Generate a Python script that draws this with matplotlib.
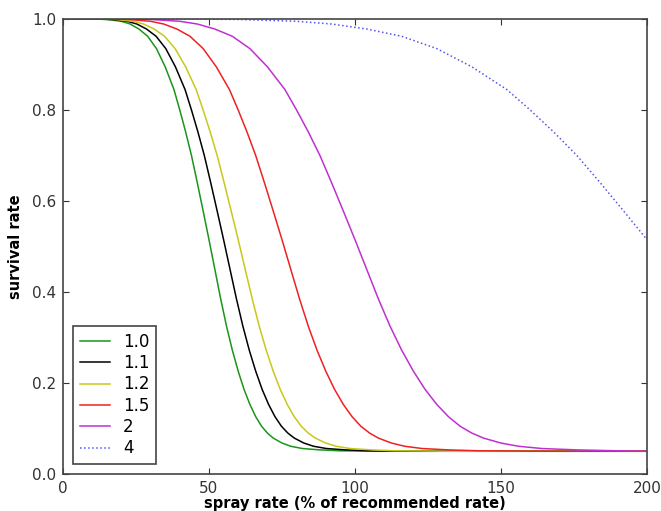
import matplotlib
matplotlib.use('Agg')
import matplotlib.pyplot as plt

matplotlib.rcParams['xtick.direction'] = 'in'
matplotlib.rcParams['ytick.direction'] = 'in'
matplotlib.rcParams['xtick.top'] = True
matplotlib.rcParams['ytick.right'] = True
matplotlib.rcParams['font.family'] = 'DejaVu Sans'

# survival levels (shared shape, shifted by resistance)
survival = [1.000, 1.000, 0.999, 0.995, 0.989, 0.978, 0.962, 0.935, 0.895,
            0.845, 0.800, 0.752, 0.700, 0.640, 0.578, 0.515, 0.450, 0.385,
            0.325, 0.272, 0.226, 0.186, 0.153, 0.126, 0.105, 0.090, 0.079,
            0.068, 0.061, 0.056, 0.053, 0.051, 0.050, 0.050]

# spray rate where each curve reaches those levels
spray_10 = [0, 10, 15, 20, 23, 26, 29, 32, 35, 38, 40, 42, 44, 46, 48, 50, 52,
            54, 56, 58, 60, 62, 64, 66, 68, 70, 72, 75, 78, 82, 88, 95, 110, 200]
spray_11 = [0, 11, 16.5, 22, 25.3, 28.6, 31.9, 35.2, 38.5, 41.8, 44, 46.2,
            48.4, 50.6, 52.8, 55, 57.2, 59.4, 61.6, 63.8, 66, 68.2, 70.4, 72.6,
            74.8, 77, 79.2, 82.5, 85.8, 90.2, 96.8, 104.5, 121, 200]
spray_12 = [0, 12, 18, 24, 27.6, 31.2, 34.8, 38.4, 42, 45.6, 48, 50.4, 52.8,
            55.2, 57.6, 60, 62.4, 64.8, 67.2, 69.6, 72, 74.4, 76.8, 79.2, 81.6,
            84, 86.4, 90, 93.6, 98.4, 105.6, 114, 132, 200]
spray_15 = [0, 15, 22.5, 30, 34.5, 39, 43.5, 48, 52.5, 57, 60, 63, 66, 69, 72,
            75, 78, 81, 84, 87, 90, 93, 96, 99, 102, 105, 108, 112.5, 117, 123,
            132, 142.5, 165, 200]
spray_2 = [0, 20, 30, 40, 46, 52, 58, 64, 70, 76, 80, 84, 88, 92, 96, 100, 104,
           108, 112, 116, 120, 124, 128, 132, 136, 140, 144, 150, 156, 164,
           176, 190, 200]
spray_4 = [0, 40, 60, 80, 92, 104, 116, 128, 140, 152, 160, 168, 176, 184,
           192, 200]

labels = ['1.0', '1.1', '1.2', '1.5', '2', '4']
xticks = [0, 50, 100, 150, 200]
yticks = [0.0, 0.2, 0.4, 0.6, 0.8, 1.0]

fig = plt.figure(figsize=(6.61, 5.11), dpi=100)
ax = fig.add_axes([0.0953, 0.0724, 0.8835, 0.8904])

ax.plot(spray_10, survival[:len(spray_10)], color='#1a951a', lw=1.1, label=labels[0])
ax.plot(spray_11, survival[:len(spray_11)], color='k', lw=1.1, label=labels[1])
ax.plot(spray_12, survival[:len(spray_12)], color='#c8c81a', lw=1.1, label=labels[2])
ax.plot(spray_15, survival[:len(spray_15)], color='#ee2222', lw=1.1, label=labels[3])
ax.plot(spray_2, survival[:len(spray_2)], color='#c030d0', lw=1.1, label=labels[4])
ax.plot(spray_4, survival[:len(spray_4)], color='#5555ee', lw=1.1, ls=':', label=labels[5])

ax.set_xlim(0, 200)
ax.set_ylim(0, 1.0)
ax.set_xticks(xticks)
ax.set_yticks(yticks)
ax.tick_params(labelsize=11, colors='#333333', length=4, pad=5)
for s in ax.spines.values():
    s.set_color('#444444')
    s.set_linewidth(1.2)

ax.set_xlabel('spray rate (% of recommended rate)', fontsize=10.5, fontweight='bold', labelpad=0)
ax.set_ylabel('survival rate', fontsize=10.5, fontweight='bold', labelpad=6)

leg = ax.legend(loc='lower left', fontsize=12, labelspacing=0.2, handlelength=1.8,
                fancybox=False, borderaxespad=0.6, framealpha=1)
leg.get_frame().set_edgecolor('#444444')
leg.get_frame().set_linewidth(1.2)

fig.savefig('out.png', dpi=100)
